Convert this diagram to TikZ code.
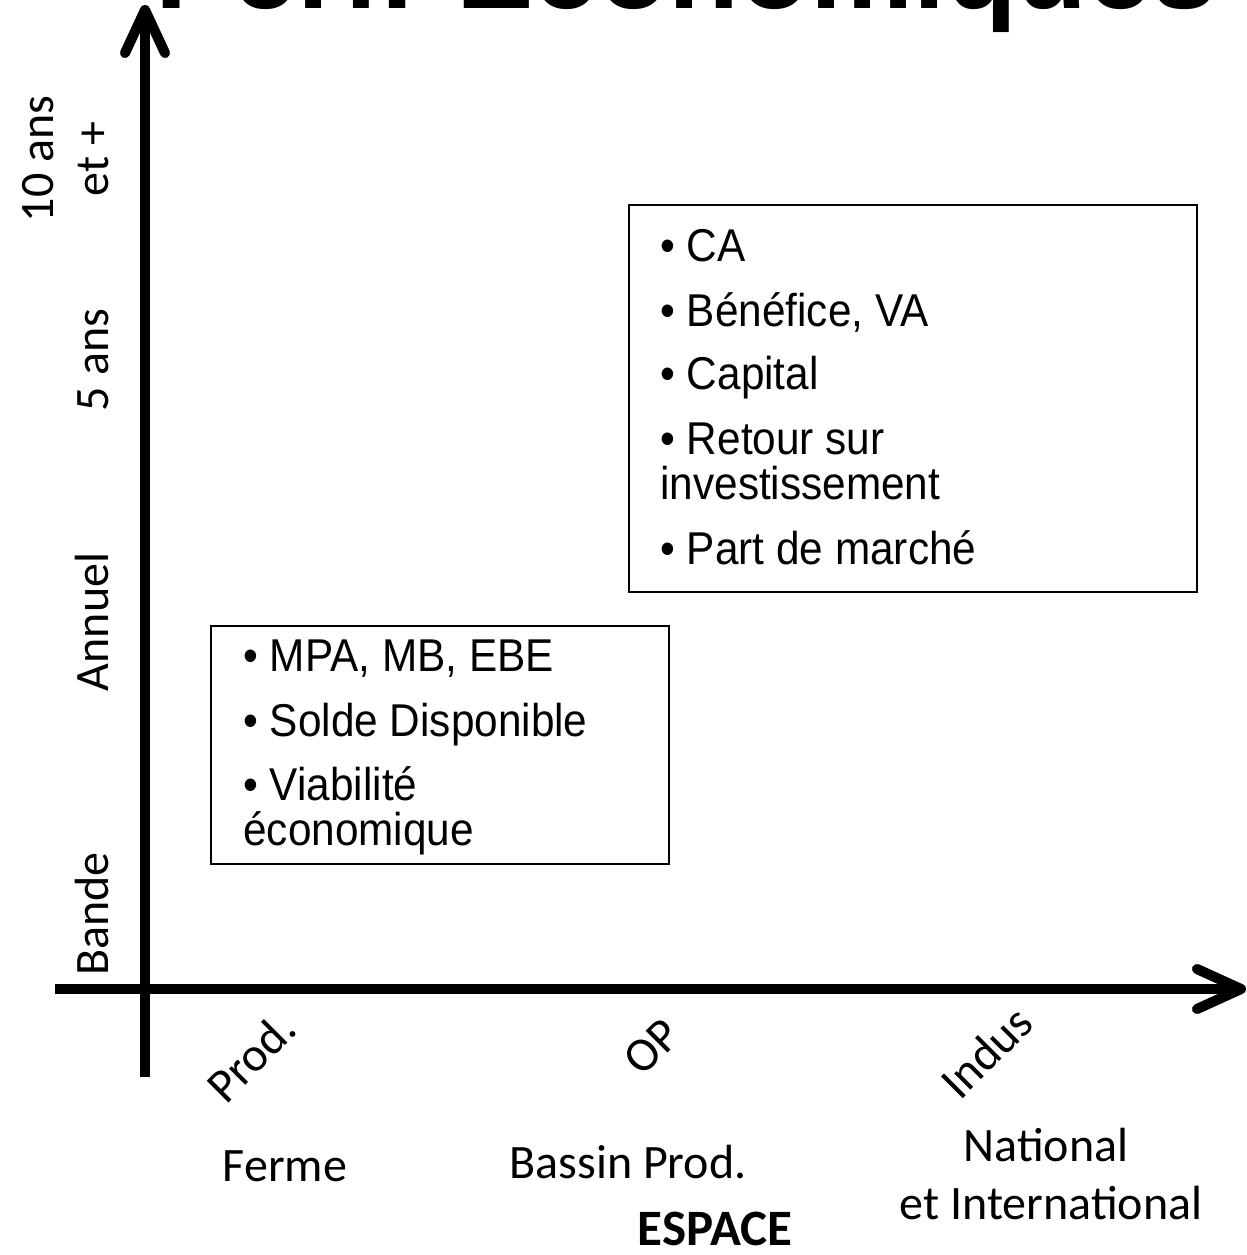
\documentclass[tikz,border=0pt]{standalone}
\usepackage{fontspec}
\setmainfont{Carlito}
\newfontfamily\boxfont[FakeStretch=0.92]{Liberation Sans}
\newfontfamily\titlefont{Liberation Sans}
\usetikzlibrary{calc}
\begin{document}
\begin{tikzpicture}[x=0.5pt,y=-0.5pt,
  lbl/.style={font=\fontsize{24}{29}\selectfont, inner sep=0pt},
  lblbase/.style={lbl, anchor=base},
  vlbl/.style={lbl, rotate=90, anchor=base},
  dlbl/.style={lbl, rotate=45, anchor=center},
  boxtxt/.style={font=\boxfont\fontsize{23}{27}\selectfont, anchor=base west, inner sep=0pt},
  frame/.style={draw=black, line width=1pt, inner sep=0pt, anchor=north west},
  axisline/.style={line width=5pt, black},
  axisshadow/.style={line width=5pt, black!38},
  chev/.style={line cap=round, line join=round}]
\useasboundingbox (0,0) rectangle (1247,1255);

% title (cut off at top)
\node[font=\titlefont\bfseries\fontsize{58}{60}\selectfont, anchor=base west, inner sep=0pt] (title) at (155,8) {Perf. Economiques};

% axes coordinates
\coordinate (ytip) at (145,10);
\coordinate (ybot) at (145,1077);
\coordinate (xtip) at (1241,989);
\coordinate (xleft) at (55,989);

% shadows
\begin{scope}[shift={(3,5)}]
  \draw[axisshadow] (ybot) -- (ytip);
  \draw[axisshadow, chev] (ytip) ++(-20,43) -- (ytip) -- ++(20,43);
  \draw[axisshadow] (xleft) -- (xtip);
  \draw[axisshadow, chev] (xtip) ++(-44,-20) -- (xtip) -- ++(-44,20);
\end{scope}
% axes
\draw[axisline] (ybot) -- (ytip);
\draw[axisline, chev] (ytip) ++(-20,43) -- (ytip) -- ++(20,43);
\draw[axisline] (xleft) -- (xtip);
\draw[axisline, chev] (xtip) ++(-44,-20) -- (xtip) -- ++(-44,20);

% vertical axis labels
\node[vlbl] (t10a) at (54,159) {10 ans};
\node[vlbl] (t10b) at (108,159) {et +};
\node[vlbl] (t5) at (108,360) {5 ans};
\node[vlbl] (tann) at (108,622) {Annuel};
\node[vlbl] (tbande) at (108,914) {Bande};

% horizontal axis labels
\node[dlbl] (prod) at (251,1057) {Prod.};
\node[dlbl] (op) at (652,1047) {OP};
\node[dlbl] (indus) at (986,1052) {Indus};
\node[lblbase] (ferme) at (285,1181) {Ferme};
\node[lblbase] (bassin) at (628,1178) {Bassin Prod.};
\node[lblbase] (natl) at (1046,1161) {National};
\node[lblbase] (intl) at (1051,1219) {et International};
\node[lblbase, font=\bfseries\fontsize{25.5}{30}\selectfont] (espace) at (715,1245) {ESPACE};

% box 1
\node[frame, minimum width=229pt, minimum height=119pt] (box1) at (210,625) {};
\node[boxtxt] (b1a) at (243,671) {• MPA, MB, EBE};
\node[boxtxt] (b1b) at (243,736) {• Solde Disponible};
\node[boxtxt] (b1c) at (243,800) {• Viabilité};
\node[boxtxt] (b1d) at (243,845) {économique};

% box 2
\node[frame, minimum width=284pt, minimum height=193.5pt] (box2) at (628,204) {};
\node[boxtxt] (b2a) at (660,261) {• CA};
\node[boxtxt] (b2b) at (660,326) {• Bénéfice, VA};
\node[boxtxt] (b2c) at (660,389) {• Capital};
\node[boxtxt] (b2d) at (660,454) {• Retour sur};
\node[boxtxt] (b2e) at (660,499) {investissement};
\node[boxtxt] (b2f) at (660,564) {• Part de marché};
\end{tikzpicture}
\end{document}
